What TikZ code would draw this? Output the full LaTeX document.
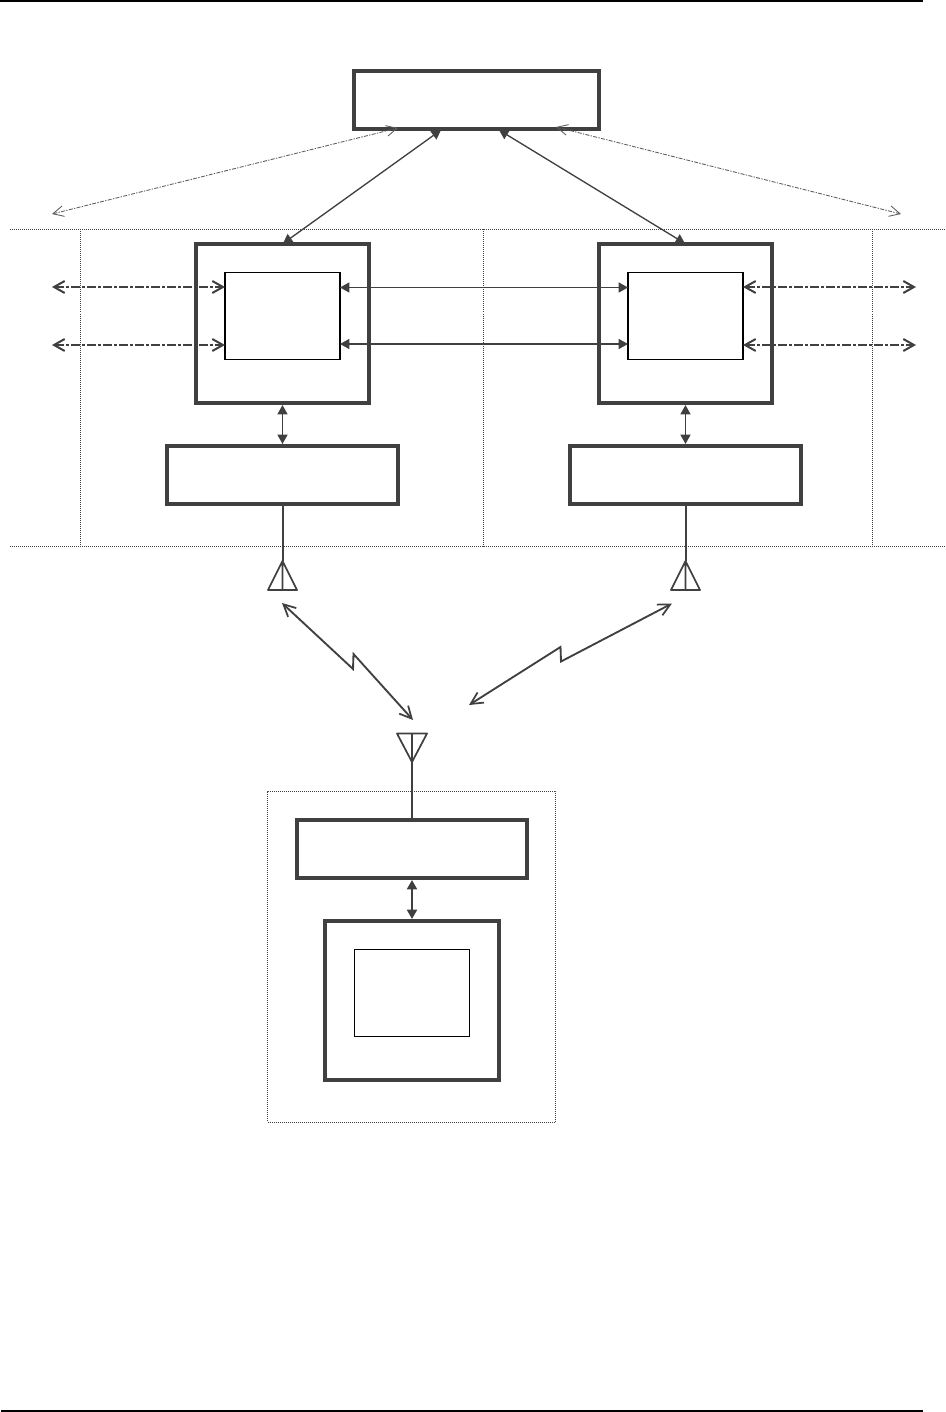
\documentclass[tikz,border=0pt]{standalone}
\usetikzlibrary{arrows.meta}
\definecolor{ink}{HTML}{404040}
\newcommand{\rectnode}[6]{\node[#1,minimum width={(#5-#3)*0.75pt},minimum height={(#6-#4)*0.75pt}] (#2) at ({(#3+#5)/2},{(#4+#6)/2}) {};}
\tikzset{
  thickbox/.style={draw=ink,line width=3pt,inner sep=0pt,outer sep=0pt},
  innerbox/.style={draw=black,line width=0.85pt,inner sep=0pt,outer sep=0pt},
  zonebox/.style={draw=ink,line width=0.75pt,dash pattern=on 0.75pt off 0.75pt,inner sep=0pt,outer sep=0pt},
  zoneline/.style={draw=ink,line width=0.75pt,dash pattern=on 0.75pt off 0.75pt},
  solidlink/.style={draw=ink,line width=1pt,{Stealth[length=7pt,width=7.5pt,inset=0pt]}-{Stealth[length=7pt,width=7.5pt,inset=0pt]}},
  heavylink/.style={draw=ink,line width=1.5pt,{Stealth[length=7pt,width=7.5pt,inset=0pt]}-{Stealth[length=7pt,width=7.5pt,inset=0pt]}},
  dashlink/.style={draw=ink,line width=1.8pt,dash pattern=on 7pt off 1.5pt on 2pt off 1.5pt,{Straight Barb[length=8pt,width=9pt,line width=1.5pt]}-{Straight Barb[length=8pt,width=9pt,line width=1.5pt]}},
  faintlink/.style={draw=ink!85,line width=0.65pt,dash pattern=on 3pt off 1pt on 1pt off 1pt,{Straight Barb[length=8pt,width=8pt,line width=0.65pt]}-{Straight Barb[length=8pt,width=8pt,line width=0.65pt]}},
  radiolink/.style={draw=ink,line width=1.4pt,line join=miter,{Straight Barb[length=9pt,width=9pt,line width=1.3pt]}-{Straight Barb[length=9pt,width=9pt,line width=1.3pt]}},
  feed/.style={draw=ink,line width=1.5pt},
  antenna/.style={draw=ink,line width=1.3pt,line join=round},
  pagerule/.style={draw=black,line width=1.7pt}
}
\begin{document}
\begin{tikzpicture}[x=0.75pt,y=-0.75pt]
\useasboundingbox (0,0) rectangle (945,1412);
% page rules
\coordinate (ruleTL) at (0,1);
\coordinate (ruleTR) at (923,1);
\coordinate (ruleBL) at (1,1411);
\coordinate (ruleBR) at (923,1411);
\draw[pagerule] (ruleTL) -- (ruleTR);
\draw[pagerule] (ruleBL) -- (ruleBR);
% zones
\coordinate (zTL) at (10,229.5);
\coordinate (zTR) at (945,229.5);
\coordinate (zBL) at (10,546.5);
\coordinate (zBR) at (945,546.5);
\draw[zoneline] (zTL) -- (zTR);
\draw[zoneline] (zBL) -- (zBR);
\foreach \n/\x in {a/80.5,b/483.5,c/872.5}{
  \coordinate (zu\n) at (\x,229.5);
  \coordinate (zd\n) at (\x,546.5);
  \draw[zoneline] (zu\n) -- (zd\n);
}
% boxes
\rectnode{thickbox}{top}{354}{71}{599}{129}
\rectnode{thickbox}{bsl}{196}{244}{369}{403}
\rectnode{thickbox}{bsr}{599}{244}{772}{403}
\rectnode{innerbox}{inl}{225}{272.5}{340}{359.5}
\rectnode{innerbox}{inr}{628}{272.5}{743}{359.5}
\rectnode{thickbox}{rfl}{167}{446}{398}{504}
\rectnode{thickbox}{rfr}{570}{446}{801}{504}
\rectnode{zonebox}{ue}{267.5}{791}{555.5}{1122}
\rectnode{thickbox}{rfu}{297}{820}{527}{878}
\rectnode{thickbox}{mt}{325}{921}{499}{1080}
\rectnode{innerbox}{inu}{354.5}{949.5}{469.5}{1036.5}
% top links
\coordinate (t1) at (441,130);
\coordinate (t2) at (499,130);
\coordinate (t3) at (398,128);
\coordinate (t4) at (556,127);
\coordinate (f1) at (52,214);
\coordinate (f2) at (901,214);
\coordinate (bl1) at (283,243.5);
\coordinate (br1) at (685,243.5);
\draw[solidlink] (t1) -- (bl1);
\draw[solidlink] (t2) -- (br1);
\draw[faintlink] (f1) -- (t3);
\draw[faintlink] (f2) -- (t4);
% inter-box links
\foreach \y/\s/\n in {287/287.5/a,345/344/b}{
  \coordinate (il\n) at (340,\s);
  \coordinate (ir\n) at (628,\s);
  \coordinate (ol\n) at (225,\y);
  \coordinate (xl\n) at (52,\y);
  \coordinate (or\n) at (743,\y);
  \coordinate (xr\n) at (916,\y);
  \draw[solidlink] (il\n) -- (ir\n);
  \draw[dashlink] (xl\n) -- (ol\n);
  \draw[dashlink] (or\n) -- (xr\n);
}
% vertical links
\path (bsl.south) ++(0,2) coordinate (va) (rfl.north) ++(0,-2) coordinate (vb);
\draw[solidlink] (va) -- (vb);
\path (bsr.south) ++(0,2) coordinate (vc) (rfr.north) ++(0,-2) coordinate (vd);
\draw[solidlink] (vc) -- (vd);
\path (rfu.south) ++(0,2) coordinate (ve) (mt.north) ++(0,-2) coordinate (vf);
\draw[heavylink] (ve) -- (vf);
% antennas
\coordinate (al) at (282.5,561);
\coordinate (ar) at (685.5,561);
\coordinate (au) at (412,762);
\draw[feed] (rfl.south) -- (al);
\draw[feed] (rfr.south) -- (ar);
\draw[feed] (rfu.north) -- (au);
\draw[antenna] (al) -- (268,590) -- (297,590) -- cycle (al) -- (282.5,590);
\draw[antenna] (ar) -- (671,590) -- (700,590) -- cycle (ar) -- (685.5,590);
\draw[antenna] (au) -- (397,733.5) -- (427,733.5) -- cycle (au) -- (412,733.5);
% radio links
\coordinate (r1) at (282,603);
\coordinate (r2) at (413,720);
\coordinate (r3) at (469,705);
\coordinate (r4) at (672,603.5);
\draw[radiolink] (r1) -- (353,669) -- (353.5,654) -- (r2);
\draw[radiolink] (r3) -- (560.5,647) -- (561,661.5) -- (r4);
\end{tikzpicture}
\end{document}
